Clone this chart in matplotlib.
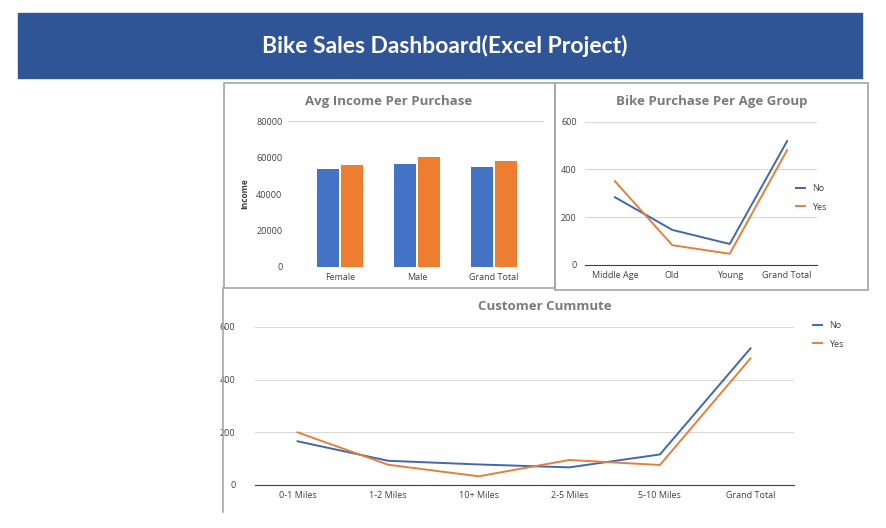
import matplotlib.pyplot as plt
from matplotlib.patches import Rectangle
from matplotlib.lines import Line2D

W, H = 887, 528

# data
genders = ["Female", "Male", "Grand Total"]
income_no = [53440, 56208, 54874]
income_yes = [55774, 60124, 57960]

age_groups = ["Middle Age", "Old", "Young", "Grand Total"]
age_no = [284, 147, 88, 519]
age_yes = [351, 83, 47, 481]

commute = ["0-1 Miles", "1-2 Miles", "10+ Miles", "2-5 Miles", "5-10 Miles", "Grand Total"]
commute_no = [166, 92, 78, 67, 116, 519]
commute_yes = [200, 77, 33, 95, 76, 481]

BLUE = "#4472C4"
ORANGE = "#ED7D31"
LBLUE = "#4068AE"
LORANGE = "#E2803F"
TITLE_GRAY = "#7A7A7A"
TICK = "#404040"
GRID = "#D9D9D9"

plt.rcParams["font.family"] = ["Open Sans", "DejaVu Sans"]

fig = plt.figure(figsize=(W / 100, H / 100), dpi=100)


def rect(x0, y0, x1, y1):
    """pixel box (top-left origin) -> figure rect"""
    return [x0 / W, 1 - y1 / H, (x1 - x0) / W, (y1 - y0) / H]


def fx(x):
    return x / W


def fy(y):
    return 1 - y / H


# banner
fig.patches.append(Rectangle((fx(18), fy(78)), (862 - 18) / W, (78 - 13) / H,
                             transform=fig.transFigure, color="#2F5597", zorder=0))
fig.text(fx(445), fy(46), "Bike Sales Dashboard(Excel Project)", color="white",
         fontsize=16.5, fontweight="bold", ha="center", va="center", family=["Lato", "DejaVu Sans"])

# panel borders
border = dict(transform=fig.transFigure, color="#A6A6A6", linewidth=1.2)
fig.patches.append(Rectangle((fx(224), fy(288)), (555 - 224) / W, (288 - 83) / H,
                             fill=False, edgecolor="#A6A6A6", linewidth=1.2, transform=fig.transFigure))
fig.patches.append(Rectangle((fx(555), fy(290)), (868 - 555) / W, (290 - 83) / H,
                             fill=False, edgecolor="#A6A6A6", linewidth=1.2, transform=fig.transFigure))
fig.lines.append(Line2D([fx(223), fx(223)], [fy(288), fy(512)], **border))


def style(ax, ymax, step, pad=8):
    ax.set_ylim(0, ymax)
    ax.set_yticks(range(0, ymax + 1, step))
    ax.tick_params(length=0, labelsize=6.5, labelcolor=TICK, pad=pad)
    for s in ["left", "right", "top"]:
        ax.spines[s].set_visible(False)
    ax.set_facecolor("none")


# Avg income per purchase
ax1 = fig.add_axes(rect(288, 121, 543, 267))
x = list(range(len(genders)))
ax1.bar([i - 0.155 for i in x], income_no, width=0.29, color=BLUE)
ax1.bar([i + 0.155 for i in x], income_yes, width=0.29, color=ORANGE)
style(ax1, 80000, 20000, pad=4)
ax1.spines["top"].set_visible(True)
ax1.spines["top"].set_color(GRID)
ax1.spines["bottom"].set_visible(False)
ax1.set_xlim(-0.675, 2.636)
ax1.set_xticks(x, genders)
ax1.tick_params(axis="x", pad=4)
ax1.set_ylabel("Income", fontsize=6, fontweight="bold", color=TICK, labelpad=5)
fig.text(fx(389), fy(101), "Avg Income Per Purchase", color=TITLE_GRAY,
         fontsize=9.5, fontweight="bold", ha="center", va="center")

# Bike purchase per age group
ax2 = fig.add_axes(rect(585, 121.7, 817, 265))
x = list(range(len(age_groups)))
ax2.plot(x, age_no, color=LBLUE, linewidth=1.4, label="No")
ax2.plot(x, age_yes, color=LORANGE, linewidth=1.4, label="Yes")
style(ax2, 600, 200, pad=6)
ax2.yaxis.grid(True, color=GRID, linewidth=0.8)
ax2.set_axisbelow(True)
ax2.spines["bottom"].set_color("#404040")
ax2.set_xlim(-0.52, 3.52)
ax2.set_xticks(x, age_groups)
ax2.tick_params(axis="x", pad=4)
ax2.legend(loc="center left", bbox_to_anchor=(fx(788), fy(198)), bbox_transform=fig.transFigure,
           frameon=False, fontsize=6.5, handlelength=1.0, handletextpad=0.8, labelspacing=1.0,
           labelcolor=TICK)
fig.text(fx(712), fy(101), "Bike Purchase Per Age Group", color=TITLE_GRAY,
         fontsize=9.5, fontweight="bold", ha="center", va="center")

# Customer commute
ax3 = fig.add_axes(rect(255, 327, 794, 485))
x = list(range(len(commute)))
ax3.plot(x, commute_no, color=LBLUE, linewidth=1.4, label="No")
ax3.plot(x, commute_yes, color=LORANGE, linewidth=1.4, label="Yes")
style(ax3, 600, 200)
ax3.yaxis.grid(True, color=GRID, linewidth=0.8)
ax3.set_axisbelow(True)
ax3.spines["bottom"].set_color("#404040")
ax3.set_xlim(-0.47, 5.48)
ax3.set_xticks(x, commute)
ax3.tick_params(axis="x", pad=4)
ax3.tick_params(axis="y", pad=14)
ax3.legend(loc="center left", bbox_to_anchor=(fx(805), fy(335)), bbox_transform=fig.transFigure,
           frameon=False, fontsize=6.5, handlelength=1.0, handletextpad=0.8, labelspacing=1.0,
           labelcolor=TICK)
fig.text(fx(545), fy(306), "Customer Cummute", color=TITLE_GRAY,
         fontsize=9.5, fontweight="bold", ha="center", va="center")

fig.savefig("out.png", dpi=100, facecolor="white")
